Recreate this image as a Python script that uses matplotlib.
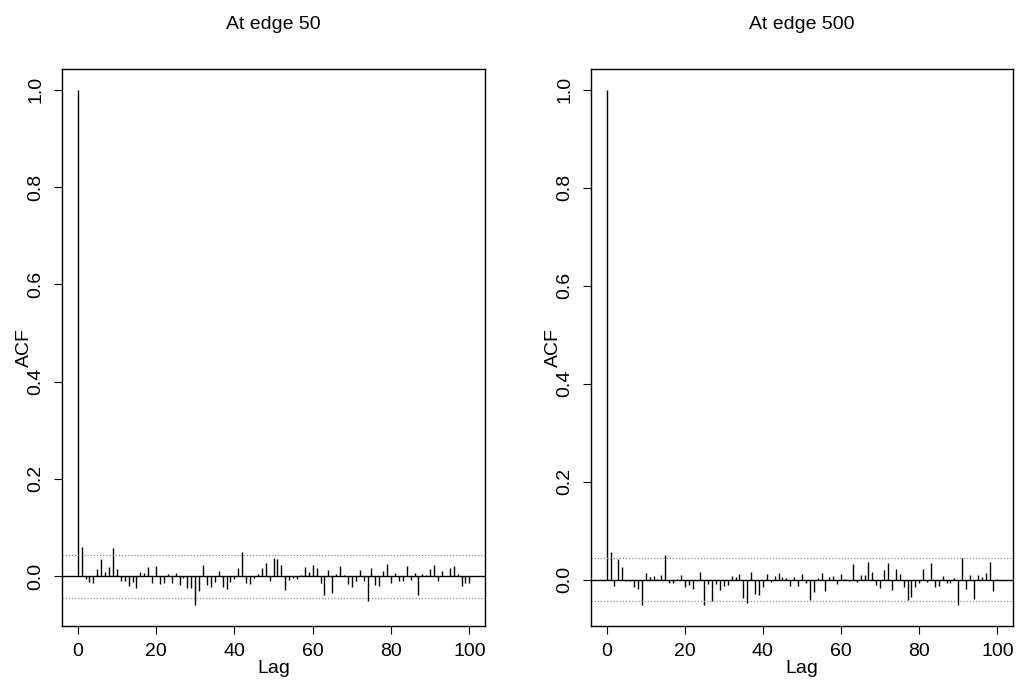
import numpy as np
import matplotlib
matplotlib.use("Agg")
import matplotlib.pyplot as plt

plt.rcParams["font.family"] = ["Liberation Sans", "DejaVu Sans"]

# ACF values (lags 0..100)
lags = np.arange(0, 101)

acf_edge50 = [
    1.0, 0.060, -0.005, -0.012, -0.013, 0.014, 0.035, 0.008, 0.018, 0.057,
    0.014, -0.010, -0.010, -0.020, -0.011, -0.024, 0.008, 0.006, 0.018, -0.014,
    0.020, -0.017, -0.013, 0.005, -0.013, 0.006, -0.019, -0.003, -0.025, -0.025,
    -0.060, -0.030, 0.023, -0.018, -0.023, -0.012, 0.010, -0.022, -0.027, -0.012,
    -0.005, 0.016, 0.049, -0.013, -0.016, -0.003, 0.005, 0.016, 0.027, -0.009,
    0.038, 0.035, 0.022, -0.029, -0.007, -0.003, -0.005, 0.002, 0.018, 0.008,
    0.024, 0.016, -0.014, -0.038, 0.012, -0.034, 0.005, 0.021, 0.003, -0.016,
    -0.023, -0.009, 0.012, -0.009, -0.051, 0.016, -0.018, -0.021, 0.010, 0.025,
    -0.013, 0.007, -0.010, -0.010, 0.021, -0.008, 0.006, -0.039, 0.004, 0.003,
    0.014, 0.024, -0.010, 0.010, 0.001, 0.016, 0.021, 0.004, -0.021, -0.013,
    -0.013,
]

acf_edge500 = [
    1.0, 0.057, -0.012, 0.042, 0.026, -0.002, -0.003, -0.014, -0.018, -0.051,
    0.015, 0.005, 0.008, 0.002, 0.010, 0.050, -0.006, -0.006, 0.002, 0.010,
    -0.014, -0.010, -0.018, -0.003, 0.016, -0.052, -0.008, -0.044, -0.008, -0.020,
    -0.012, -0.010, 0.008, 0.006, 0.013, -0.036, -0.048, 0.016, -0.029, -0.031,
    -0.014, 0.011, -0.004, 0.007, 0.015, 0.006, 0.004, -0.012, 0.006, -0.012,
    0.013, -0.006, -0.041, -0.025, 0.004, 0.014, -0.023, 0.006, 0.008, -0.009,
    0.011, 0.001, -0.002, 0.033, -0.004, 0.010, 0.010, 0.037, 0.017, -0.010,
    -0.016, 0.020, 0.035, -0.020, 0.023, 0.012, -0.014, -0.042, -0.035, -0.015,
    -0.007, 0.022, -0.005, 0.035, -0.014, -0.012, 0.007, -0.007, -0.006, 0.004,
    -0.052, 0.044, -0.019, 0.010, -0.038, 0.009, 0.006, 0.015, 0.036, -0.022,
    0.002,
]

titles = ["At edge 50", "At edge 500"]
n_obs = 2000  # dotted bounds at 1.96/sqrt(n)
ci = 1.96 / np.sqrt(n_obs)

fig = plt.figure(figsize=(10.21, 6.84), dpi=100)
positions = [
    [62 / 1021, 58 / 684, 423 / 1021, 557 / 684],
    [591 / 1021, 58 / 684, 422 / 1021, 557 / 684],
]

for pos, acf, title in zip(positions, [acf_edge50, acf_edge500], titles):
    ax = fig.add_axes(pos)
    acf = np.asarray(acf)
    ax.vlines(lags, 0, acf, color="black", linewidth=1.0)
    ax.axhline(0, color="black", linewidth=1.0)
    for y in (ci, -ci):
        ax.axhline(y, color="#8c8c8c", linewidth=0.9, linestyle=(0, (1, 1.5)))

    lo = min(acf.min(), -ci)
    hi = max(acf.max(), ci)
    span = hi - lo
    ax.set_xlim(-4, 104)
    ax.set_ylim(lo - 0.04 * span, hi + 0.04 * span)

    ax.set_xticks([0, 20, 40, 60, 80, 100])
    ax.set_yticks([0.0, 0.2, 0.4, 0.6, 0.8, 1.0])
    ax.set_yticklabels(["0.0", "0.2", "0.4", "0.6", "0.8", "1.0"])
    ax.tick_params(axis="both", direction="out", length=5.5, width=0.8,
                   labelsize=14, color="black", pad=7)
    ax.tick_params(axis="y", labelrotation=90)
    for lbl in ax.get_yticklabels():
        lbl.set_va("center")

    for side in ("top", "right", "left", "bottom"):
        ax.spines[side].set_linewidth(1.0)
        ax.spines[side].set_color("black")

    ax.set_xlabel("Lag", fontsize=14, labelpad=0)
    ax.set_ylabel("ACF", fontsize=14, labelpad=-4)
    ax.set_title(title, fontsize=14, pad=29)

fig.savefig("out.png", dpi=100)
